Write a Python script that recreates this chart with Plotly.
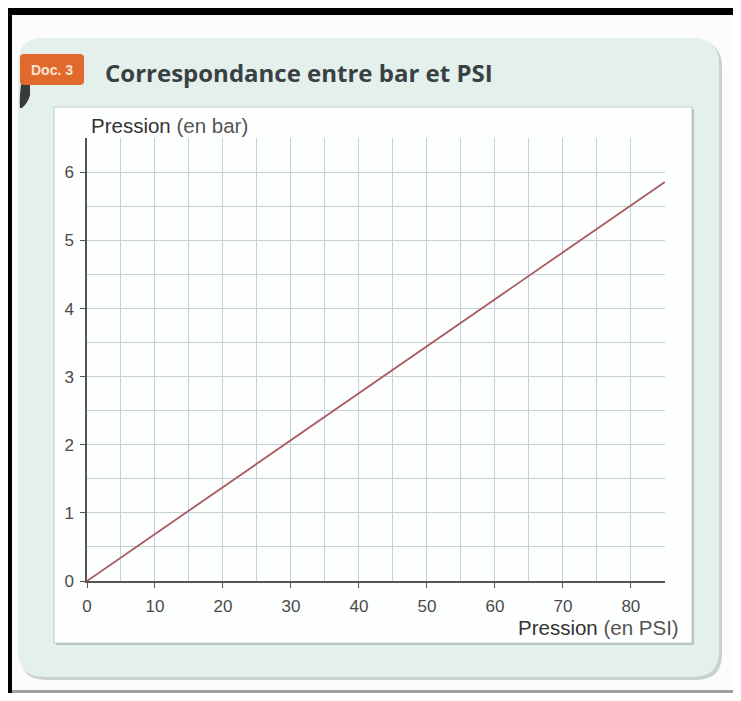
import plotly.graph_objects as go

# Data
psi = [0, 10, 20, 30, 40, 50, 60, 70, 80, 85]
bar = [0, 0.69, 1.38, 2.07, 2.76, 3.45, 4.14, 4.83, 5.52, 5.86]
x_ticks = [0, 10, 20, 30, 40, 50, 60, 70, 80]
y_ticks = [0, 1, 2, 3, 4, 5, 6]

# The page body has an 8px margin; work in page pixels and convert.
OFF = 8
W, H = 741 - 2 * OFF, 701 - 2 * OFF
L, R, T, B = 87 - OFF, 665 - OFF, 138 - OFF, 581 - OFF
PW, PH = R - L, B - T


def px(x):
    return (x - OFF - L) / PW


def py(y):
    return (B - (y - OFF)) / PH


def rrect(x0, y0, x1, y1, r):
    pts = [
        f"M {px(x0 + r)} {py(y0)}",
        f"L {px(x1 - r)} {py(y0)}",
        f"Q {px(x1)} {py(y0)} {px(x1)} {py(y0 + r)}",
        f"L {px(x1)} {py(y1 - r)}",
        f"Q {px(x1)} {py(y1)} {px(x1 - r)} {py(y1)}",
        f"L {px(x0 + r)} {py(y1)}",
        f"Q {px(x0)} {py(y1)} {px(x0)} {py(y1 - r)}",
        f"L {px(x0)} {py(y0 + r)}",
        f"Q {px(x0)} {py(y0)} {px(x0 + r)} {py(y0)}",
        "Z",
    ]
    return " ".join(pts)


def rect(x0, y0, x1, y1, color, line=None, lw=0):
    return dict(type="rect", xref="paper", yref="paper", layer="below",
                x0=px(x0), x1=px(x1), y0=py(y1), y1=py(y0),
                fillcolor=color, line=dict(width=lw, color=line or color))


shapes = [
    # black borders
    rect(0, 6, 741, 15, "#000000"),
    rect(0, 6, 12, 701, "#000000"),
    rect(12, 690, 741, 693, "#a0a0a0"),
    # panel shadow
    dict(type="path", xref="paper", yref="paper", layer="below",
         path=rrect(20, 41, 722, 680, 26), fillcolor="#c9d1ce", line=dict(width=0)),
    # mint panel
    dict(type="path", xref="paper", yref="paper", layer="below",
         path=rrect(18, 38, 719, 677, 26), fillcolor="#e4f0ec", line=dict(width=0)),
    # white box shadow
    rect(56, 109, 694, 645, "#b9c2bf"),
    # white box
    rect(54, 107, 692, 643, "#fdfefe", line="#c3cbc8", lw=1),
    # badge curl
    dict(type="path", xref="paper", yref="paper", layer="below",
         path=f"M {px(22)} {py(78)} L {px(30)} {py(78)} L {px(30)} {py(95)} "
              f"Q {px(28)} {py(103)} {px(22)} {py(108)} L {px(20)} {py(108)} "
              f"Q {px(19)} {py(96)} {px(22)} {py(78)} Z",
         fillcolor="#3a3a3a", line=dict(width=0)),
    # badge
    dict(type="path", xref="paper", yref="paper", layer="below",
         path=rrect(20, 54, 84, 85, 4), fillcolor="#e06a2c", line=dict(width=0)),
]

fig = go.Figure()
fig.add_trace(go.Scatter(x=psi, y=bar, mode="lines",
                         line=dict(color="#a85a5e", width=1.8),
                         hoverinfo="skip", showlegend=False))

tick_font = dict(family="Liberation Sans, Arial, sans-serif", size=17, color="#4a4a4a")
grid_col = "#c4d1d9"

fig.update_layout(
    width=W, height=H,
    margin=dict(l=L, r=W - R, t=T, b=H - B),
    paper_bgcolor="#fbfcfb",
    plot_bgcolor="rgba(0,0,0,0)",
    shapes=shapes,
    xaxis=dict(range=[0, 85.02], tickvals=x_ticks, ticks="outside", ticklen=5,
               tickcolor="#555", tickwidth=1.2, tickfont=tick_font,
               ticklabelstandoff=4,
               showgrid=True, gridcolor=grid_col, gridwidth=1,
               minor=dict(dtick=5, tick0=0, showgrid=True, gridcolor=grid_col, gridwidth=1),
               showline=True, linecolor="#555", linewidth=1.5, zeroline=False,
               fixedrange=True),
    yaxis=dict(range=[0, 6.505], tickvals=y_ticks, ticks="outside", ticklen=5,
               tickcolor="#555", tickwidth=1.2, tickfont=tick_font,
               ticklabelstandoff=3,
               showgrid=True, gridcolor=grid_col, gridwidth=1,
               minor=dict(dtick=0.5, tick0=0, showgrid=True, gridcolor=grid_col, gridwidth=1),
               showline=True, linecolor="#555", linewidth=1.5, zeroline=False,
               fixedrange=True),
    annotations=[
        dict(xref="paper", yref="paper", x=px(103), y=py(72), xanchor="left", yanchor="middle",
             text="<b>Correspondance entre bar et PSI</b>", showarrow=False,
             font=dict(family="Open Sans, sans-serif", size=24, color="#3a4043")),
        dict(xref="paper", yref="paper", x=px(52), y=py(70), xanchor="center", yanchor="middle",
             text="<b>Doc. 3</b>", showarrow=False,
             font=dict(family="Liberation Sans, sans-serif", size=14, color="#fbe3d4")),
        dict(xref="paper", yref="paper", x=px(89), y=py(125), xanchor="left", yanchor="middle",
             text="Pression <span style='color:#555'>(en bar)</span>", showarrow=False,
             font=dict(family="Liberation Sans, Arial, sans-serif", size=20.5, color="#333")),
        dict(xref="paper", yref="paper", x=px(681), y=py(627), xanchor="right", yanchor="middle",
             text="Pression <span style='color:#555'>(en PSI)</span>", showarrow=False,
             font=dict(family="Liberation Sans, Arial, sans-serif", size=20.5, color="#333")),
    ],
)

fig.write_html("out.html")
